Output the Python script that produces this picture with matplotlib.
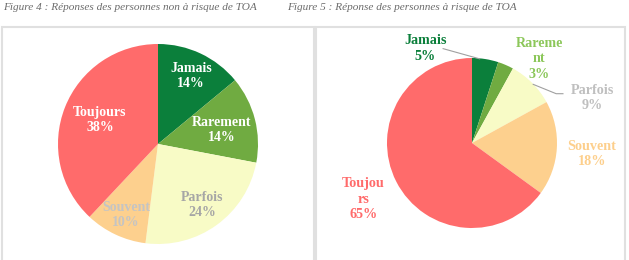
import matplotlib.pyplot as plt
from matplotlib.patches import Rectangle

categories = ["Jamais", "Rarement", "Parfois", "Souvent", "Toujours"]
non_risque = [14, 14, 24, 10, 38]
risque = [5, 3, 9, 18, 65]

colors = ["#0b7f3b", "#70ab41", "#f8fbc6", "#fdd08e", "#ff6b6b"]

# label text as shown (right chart wraps long words)
labels_left = ["Jamais", "Rarement", "Parfois", "Souvent", "Toujours"]
labels_right = ["Jamais", "Rareme\nnt", "Parfois", "Souvent", "Toujou\nrs"]
text_left = ["white", "white", "#a6a6a6", "#c4c4c4", "white"]
text_right = ["#0b7f3b", "#8cc75a", "#bfbfbf", "#fdcf8c", "#ff6b6b"]

# label positions in pie units (radius = 1)
pos_left = [(0.33, 0.68), (0.64, 0.14), (0.44, -0.61), (-0.32, -0.71), (-0.58, 0.24)]
pos_right = [(-0.55, 1.11), (0.79, 0.99), (1.42, 0.53), (1.41, -0.13), (-1.28, -0.66)]

W, H = 629, 260
fig = plt.figure(figsize=(W / 100, H / 100), dpi=100)
fig.patch.set_facecolor("white")

serif = ["Liberation Serif", "DejaVu Serif"]

# panel frames
for x0, x1 in [(2, 314), (316, 625)]:
    fig.patches.append(Rectangle((x0 / W, -0.05), (x1 - x0) / W, (H + 13 - 27) / H,
                                 transform=fig.transFigure, fill=False,
                                 edgecolor="#e0e0e0", linewidth=1.5))

fig.text(3 / W, 1 - 7 / H, "Figure 4 : Réponses des personnes non à risque de TOA",
         family=serif, style="italic", color="#6b6b6b", fontsize=8.1, va="center", ha="left")
fig.text(287 / W, 1 - 7 / H, "Figure 5 : Réponse des personnes à risque de TOA",
         family=serif, style="italic", color="#6b6b6b", fontsize=8.1, va="center", ha="left")


def make_pie(cx, cy, r, values, labels, tcolors, positions, fs):
    ax = fig.add_axes([(cx - r) / W, 1 - (cy + r) / H, 2 * r / W, 2 * r / H])
    ax.pie(values, colors=colors, startangle=90, counterclock=False, radius=1,
           wedgeprops=dict(linewidth=0))
    ax.set_xlim(-1, 1)
    ax.set_ylim(-1, 1)
    ax.set_aspect("equal")
    ax.axis("off")
    for lab, v, c, (x, y) in zip(labels, values, tcolors, positions):
        ax.text(x, y, f"{lab}\n{v}%", ha="center", va="center", color=c,
                family=serif, fontweight="bold", fontsize=fs, linespacing=1.25,
                clip_on=False)
    return ax


ax1 = make_pie(158, 144, 100, non_risque, labels_left, text_left, pos_left, 10)
ax2 = make_pie(472, 143, 85, risque, labels_right, text_right, pos_right, 10.2)

# leader lines on the right chart
ax2.plot([-0.34, 0.09], [1.11, 0.99], color="#a0a0a0", lw=0.8, clip_on=False)
ax2.plot([0.72, 0.99, 1.07], [0.69, 0.58, 0.58], color="#a0a0a0", lw=0.8, clip_on=False)

fig.savefig("out.png", dpi=100)
